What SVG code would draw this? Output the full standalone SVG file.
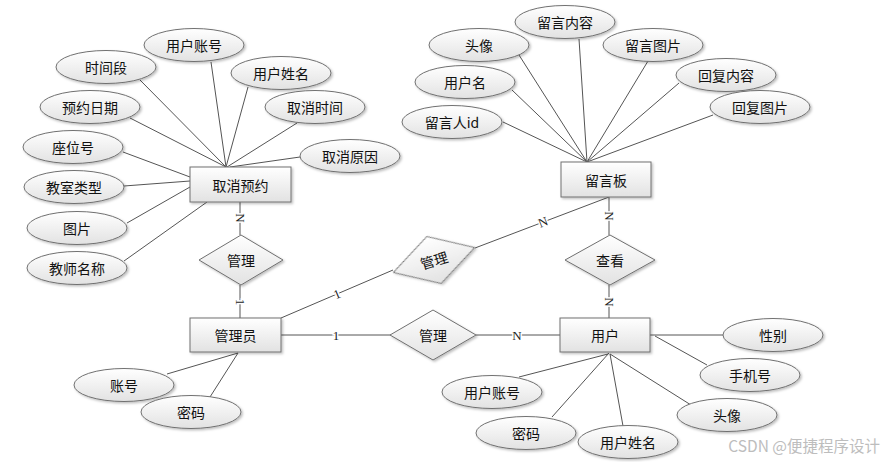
<svg xmlns="http://www.w3.org/2000/svg" width="885" height="462" viewBox="0 0 885 462">
<defs>
<linearGradient id="g" x1="0" y1="0" x2="0" y2="1">
<stop offset="0" stop-color="#ffffff"/>
<stop offset="1" stop-color="#e2e2e2"/>
</linearGradient>
<filter id="sh" x="-10%" y="-10%" width="130%" height="140%">
<feDropShadow dx="1.5" dy="1.5" stdDeviation="1" flood-color="#000" flood-opacity="0.25"/>
</filter>
<style>
.s{fill:url(#g);stroke:#707070;stroke-width:1;filter:url(#sh)}
.t{font-family:"Noto Sans CJK SC","Noto Sans",sans-serif;font-size:14px;fill:#111;text-anchor:middle;dominant-baseline:central}
.c line{stroke:#555;stroke-width:1}
.l{font-family:"Liberation Serif",serif;font-size:13px;fill:#222;text-anchor:middle;dominant-baseline:central;stroke:#fff;stroke-width:3;paint-order:stroke}
.w{font-family:"Noto Sans CJK SC","Noto Sans",sans-serif;font-size:15.5px;fill:#bdbdbd;text-anchor:end}
</style>
</defs>
<rect width="885" height="462" fill="#fff"/>
<g class="c" id="connectors">
<line x1="211" y1="62" x2="226" y2="167"/>
<line x1="140" y1="80" x2="226" y2="167"/>
<line x1="248" y1="87" x2="226" y2="167"/>
<line x1="297" y1="123" x2="227" y2="167"/>
<line x1="300" y1="157" x2="230" y2="167"/>
<line x1="130" y1="118" x2="226" y2="167"/>
<line x1="123" y1="152" x2="190" y2="177"/>
<line x1="124" y1="186" x2="190" y2="181"/>
<line x1="127" y1="223" x2="190" y2="187"/>
<line x1="124" y1="261" x2="207" y2="202"/>
<line x1="519" y1="55" x2="587" y2="162"/>
<line x1="579" y1="39" x2="587" y2="162"/>
<line x1="648" y1="61" x2="587" y2="162"/>
<line x1="512" y1="90" x2="587" y2="162"/>
<line x1="679" y1="83" x2="587" y2="162"/>
<line x1="713" y1="115" x2="587" y2="162"/>
<line x1="503" y1="122" x2="587" y2="162"/>
<line x1="240" y1="202" x2="240" y2="235"/>
<line x1="609" y1="197" x2="609" y2="235"/>
<line x1="475" y1="248" x2="609" y2="197"/>
<line x1="281" y1="318" x2="393" y2="270"/>
<line x1="240" y1="285" x2="240" y2="318"/>
<line x1="281" y1="335" x2="391" y2="335"/>
<line x1="476" y1="335" x2="560" y2="335"/>
<line x1="609" y1="285" x2="609" y2="318"/>
<line x1="167" y1="374" x2="238" y2="353"/>
<line x1="210" y1="397" x2="238" y2="353"/>
<line x1="650" y1="335" x2="723" y2="335"/>
<line x1="655" y1="336" x2="707" y2="365"/>
<line x1="610" y1="354" x2="691" y2="405"/>
<line x1="519" y1="377" x2="608" y2="354"/>
<line x1="552" y1="417" x2="609" y2="353"/>
<line x1="623" y1="426" x2="610" y2="354"/>
<text class="l" transform="translate(240,218) rotate(90)">N</text>
<text class="l" transform="translate(609,216) rotate(90)">N</text>
<text class="l" transform="translate(543,222) rotate(-21)">N</text>
<text class="l" transform="translate(337,294) rotate(-23)">1</text>
<text class="l" transform="translate(240,302) rotate(90)">1</text>
<text class="l" x="336" y="335">1</text>
<text class="l" x="517" y="335">N</text>
<text class="l" transform="translate(609,302) rotate(90)">N</text>
</g>
<g id="qxyy"><rect class="s" x="190" y="167" width="101" height="35"/><text class="t" x="240.5" y="184.5">取消预约</text></g>
<g id="lyb"><rect class="s" x="561" y="162" width="90" height="35"/><text class="t" x="606" y="179.5">留言板</text></g>
<g id="gly"><rect class="s" x="190" y="318" width="91" height="34"/><text class="t" x="235.5" y="335">管理员</text></g>
<g id="yh"><rect class="s" x="560" y="318" width="90" height="34"/><text class="t" x="605" y="335">用户</text></g>
<g id="d1"><polygon class="s" points="241,235 283,260 241,285 199,260"/><text class="t" x="241" y="260">管理</text></g>
<g id="d2"><polygon class="s" points="610,235 655,260 610,285 565,260"/><text class="t" x="610" y="260">查看</text></g>
<g id="d3"><polygon class="s" points="433,310 476,335 433,360 390,335"/><text class="t" x="433" y="335">管理</text></g>
<g id="d4" transform="translate(434,260) rotate(-17)"><polygon class="s" points="0,-24.5 42.5,0 0,24.5 -42.5,0"/><text class="t" x="0" y="0">管理</text></g>
<g id="a1"><ellipse class="s" cx="194" cy="45" rx="50" ry="16.5"/><text class="t" x="194" y="45">用户账号</text></g>
<g id="a2"><ellipse class="s" cx="106" cy="67" rx="50" ry="16.5"/><text class="t" x="106" y="67">时间段</text></g>
<g id="a3"><ellipse class="s" cx="281" cy="73" rx="50" ry="16.5"/><text class="t" x="281" y="73">用户姓名</text></g>
<g id="a4"><ellipse class="s" cx="90" cy="107" rx="50" ry="16.5"/><text class="t" x="90" y="107">预约日期</text></g>
<g id="a5"><ellipse class="s" cx="315" cy="107" rx="50" ry="16.5"/><text class="t" x="315" y="107">取消时间</text></g>
<g id="a6"><ellipse class="s" cx="73" cy="147" rx="50" ry="16.5"/><text class="t" x="73" y="147">座位号</text></g>
<g id="a7"><ellipse class="s" cx="350" cy="156" rx="50" ry="16.5"/><text class="t" x="350" y="156">取消原因</text></g>
<g id="a8"><ellipse class="s" cx="74" cy="187" rx="50" ry="16.5"/><text class="t" x="74" y="187">教室类型</text></g>
<g id="a9"><ellipse class="s" cx="77" cy="228" rx="50" ry="16.5"/><text class="t" x="77" y="228">图片</text></g>
<g id="a10"><ellipse class="s" cx="77" cy="268" rx="50" ry="16.5"/><text class="t" x="77" y="268">教师名称</text></g>
<g id="b1"><ellipse class="s" cx="565" cy="22" rx="50" ry="16.5"/><text class="t" x="565" y="22">留言内容</text></g>
<g id="b2"><ellipse class="s" cx="479" cy="45" rx="50" ry="16.5"/><text class="t" x="479" y="45">头像</text></g>
<g id="b3"><ellipse class="s" cx="653" cy="45" rx="50" ry="16.5"/><text class="t" x="653" y="45">留言图片</text></g>
<g id="b4"><ellipse class="s" cx="465" cy="82" rx="50" ry="16.5"/><text class="t" x="465" y="82">用户名</text></g>
<g id="b5"><ellipse class="s" cx="726" cy="75" rx="50" ry="16.5"/><text class="t" x="726" y="75">回复内容</text></g>
<g id="b6"><ellipse class="s" cx="760" cy="107" rx="50" ry="16.5"/><text class="t" x="760" y="107">回复图片</text></g>
<g id="b7"><ellipse class="s" cx="452" cy="122" rx="50" ry="16.5"/><text class="t" x="452" y="122">留言人id</text></g>
<g id="c1"><ellipse class="s" cx="124" cy="385" rx="50" ry="16.5"/><text class="t" x="124" y="385">账号</text></g>
<g id="c2"><ellipse class="s" cx="191" cy="412" rx="50" ry="16.5"/><text class="t" x="191" y="412">密码</text></g>
<g id="e1"><ellipse class="s" cx="773" cy="335" rx="50" ry="16.5"/><text class="t" x="773" y="335">性别</text></g>
<g id="e2"><ellipse class="s" cx="750" cy="375" rx="50" ry="16.5"/><text class="t" x="750" y="375">手机号</text></g>
<g id="e3"><ellipse class="s" cx="727" cy="415" rx="50" ry="16.5"/><text class="t" x="727" y="415">头像</text></g>
<g id="e4"><ellipse class="s" cx="492" cy="392" rx="50" ry="16.5"/><text class="t" x="492" y="392">用户账号</text></g>
<g id="e5"><ellipse class="s" cx="526" cy="433" rx="50" ry="16.5"/><text class="t" x="526" y="433">密码</text></g>
<g id="e6"><ellipse class="s" cx="628" cy="442" rx="50" ry="16.5"/><text class="t" x="628" y="442">用户姓名</text></g>
<text class="w" x="880" y="452">CSDN @便捷程序设计</text>
</svg>
